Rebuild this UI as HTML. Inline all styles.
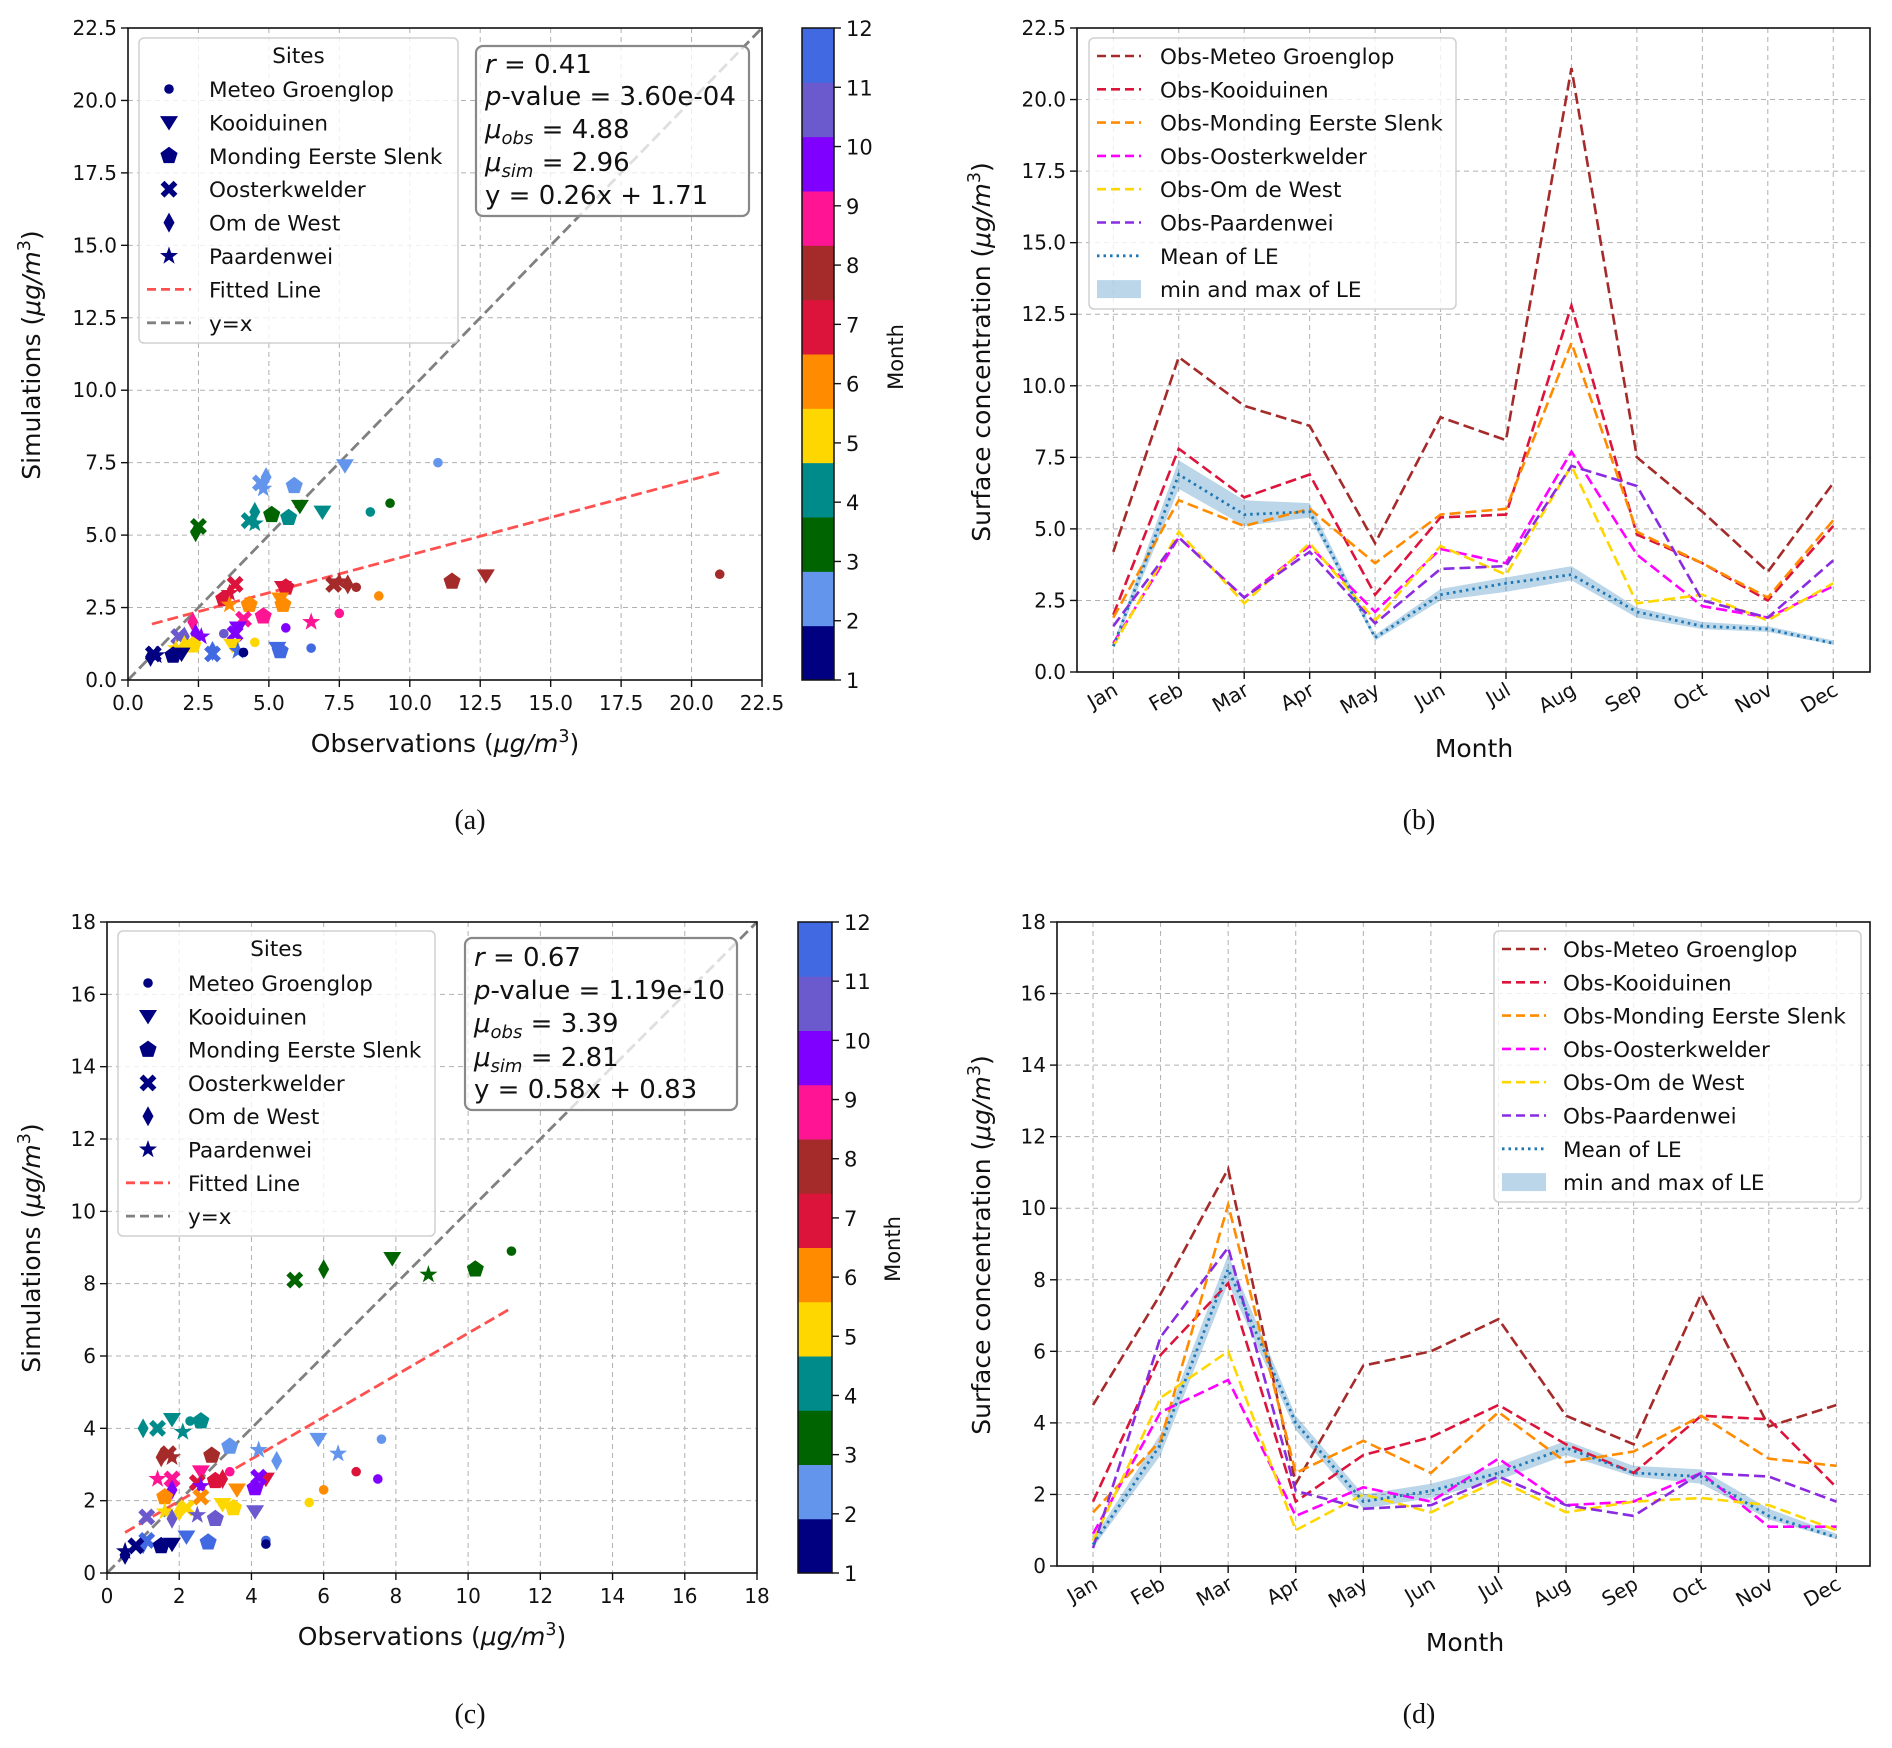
<!DOCTYPE html>
<html><head><meta charset="utf-8">
<style>
html,body{margin:0;padding:0;background:#fff;}
svg{display:block;font-family:"DejaVu Sans","Liberation Sans",sans-serif;}
</style></head>
<body>
<svg id="fig" xmlns="http://www.w3.org/2000/svg" width="1892" height="1748" viewBox="0 0 1892 1748"></svg>
<script>
// ===== Data =====
const months = ['Jan','Feb','Mar','Apr','May','Jun','Jul','Aug','Sep','Oct','Nov','Dec'];
const siteNames = ['Meteo Groenglop','Kooiduinen','Monding Eerste Slenk','Oosterkwelder','Om de West','Paardenwei'];
const monthColors = ['#000080','#6495ed','#006400','#008b8b','#ffd700','#ff8c00','#dc143c','#a52a2a','#ff1493','#8000ff','#6a5acd','#4169e1'];
const seriesColors = ['#a52a2a','#dc143c','#ff8c00','#ff00ff','#ffd700','#8a2be2'];

// Panel (a) scatter
const aObs   = [4.7,4.8,4.9,5.9,7.7,11.0, 2.4,2.5,5.1,6.1,9.3, 4.3,4.5,4.5,5.7,6.9,8.6, 7.3,7.5,7.8,8.1,11.5,12.7,21.0, 3.4,3.6,3.8,5.5,5.6, 3.6,4.3,5.4,5.5,8.9, 2.3,4.1,4.8,6.5,7.5, 2.4,2.6,3.8,3.9,5.6, 1.8,2.0,3.4, 1.7,2.0,2.3,3.7,4.5, 3.0,3.0,3.9,5.3,5.4,6.5, 0.8,0.9,1.0,1.6,1.9,4.1];
const aSim   = [6.8,6.6,7.0,6.7,7.4,7.5, 5.1,5.3,5.7,6.0,6.1, 5.5,5.4,5.8,5.6,5.8,5.8, 3.3,3.4,3.3,3.2,3.4,3.6,3.65, 2.8,3.0,3.3,3.2,3.2, 2.6,2.6,2.8,2.6,2.9, 2.0,2.1,2.2,2.0,2.3, 1.6,1.5,1.6,1.8,1.8, 1.5,1.5,1.6, 1.1,1.2,1.2,1.2,1.3, 1.0,0.9,1.0,1.1,1.0,1.1, 0.8,0.9,0.85,0.85,0.9,0.95];
const aSite  = [3,5,4,2,1,0, 4,3,2,1,0, 3,5,4,2,1,0, 3,5,4,0,2,1,0, 2,5,3,1,2, 5,2,1,2,0, 4,3,2,5,0, 4,5,3,1,0, 3,4,0, 5,4,2,1,0, 4,3,5,1,2,0, 4,3,5,2,1,0];
const aMonth = [2,2,2,2,2,2, 3,3,3,3,3, 4,4,4,4,4,4, 8,8,8,8,8,8,8, 7,7,7,7,7, 6,6,6,6,6, 9,9,9,9,9, 10,10,10,10,10, 11,11,11, 5,5,5,5,5, 12,12,12,12,12,12, 1,1,1,1,1,1];
const aStats = ['0.41','3.60e-04','4.88','2.96','y = 0.26x + 1.71'];
const aFit   = [0.26, 1.71, 0.85, 21.0];

// Panel (c) scatter
const cObs   = [5.2,6.0,7.9,8.9,10.2,11.2, 1.0,1.4,1.8,2.1,2.3,2.6, 1.5,1.7,1.8,2.9, 3.4,4.2,4.7,5.85,6.4,7.6, 1.4,1.8,2.6,3.4,7.5, 2.5,3.0,3.2,4.4,6.9, 1.8,2.6,4.1,4.2, 1.6,2.6,3.6,6.0, 1.6,2.0,2.2,3.2,3.5,5.6, 1.1,1.8,2.5,3.0,4.1, 1.0,1.1,2.2,2.8,4.4, 0.5,0.5,0.8,1.5,1.8,4.4];
const cSim   = [8.1,8.4,8.7,8.25,8.4,8.9, 4.0,4.0,4.25,3.9,4.2,4.2, 3.2,3.3,3.2,3.25, 3.5,3.4,3.1,3.7,3.3,3.7, 2.6,2.6,2.8,2.8,2.6, 2.5,2.55,2.6,2.6,2.8, 2.3,2.4,2.35,2.65, 2.1,2.1,2.3,2.3, 1.7,1.7,1.8,1.9,1.8,1.95, 1.55,1.5,1.6,1.5,1.7, 0.8,0.9,1.0,0.85,0.9, 0.6,0.5,0.75,0.75,0.8,0.8];
const cSite  = [3,4,1,5,2,0, 4,3,1,5,0,2, 4,3,5,2, 2,5,4,1,5,0, 5,3,1,0,0, 3,2,4,1,0, 4,5,2,3, 2,3,1,0, 5,4,3,1,2,0, 3,4,5,2,1, 4,3,1,2,0, 5,4,3,2,1,0];
const cMonth = [3,3,3,3,3,3, 4,4,4,4,4,4, 8,8,8,8, 2,2,2,2,2,2, 9,9,9,9,10, 7,7,7,7,7, 10,10,10,10, 6,6,6,6, 5,5,5,5,5,5, 11,11,11,11,11, 12,12,12,12,12, 1,1,1,1,1,1];
const cStats = ['0.67','1.19e-10','3.39','2.81','y = 0.58x + 0.83'];
const cFit   = [0.58, 0.83, 0.5, 11.2];

// Panel (b) monthly lines
const bGroen = [4.2,11.0,9.3,8.6,4.5,8.9,8.1,21.1,7.5,5.6,3.5,6.6];
const bKooi  = [2.0,7.8,6.1,6.9,2.7,5.4,5.5,12.8,4.8,3.8,2.5,5.1];
const bMond  = [1.9,6.0,5.1,5.7,3.8,5.5,5.7,11.5,4.9,3.8,2.6,5.3];
const bOost  = [1.0,4.7,2.6,4.4,2.1,4.3,3.8,7.7,4.1,2.3,1.9,3.0];
const bWest  = [0.9,4.9,2.4,4.5,1.8,4.4,3.4,7.2,2.4,2.7,1.8,3.1];
const bPaard = [1.6,4.7,2.6,4.2,1.7,3.6,3.7,7.2,6.5,2.5,1.9,3.9];
const bMean  = [0.9,6.9,5.5,5.6,1.2,2.7,3.1,3.4,2.1,1.6,1.5,1.0];
const bMin   = [0.8,6.4,5.1,5.4,1.1,2.5,2.8,3.2,1.9,1.5,1.4,0.95];
const bMax   = [1.0,7.4,6.0,5.9,1.3,2.9,3.3,3.7,2.25,1.75,1.6,1.1];

// Panel (d) monthly lines
const dGroen = [4.5,7.6,11.1,2.3,5.6,6.0,6.9,4.2,3.4,7.6,3.9,4.5];
const dKooi  = [1.8,5.9,7.9,1.8,3.1,3.6,4.5,3.4,2.6,4.2,4.1,2.2];
const dMond  = [1.5,3.5,10.1,2.6,3.5,2.6,4.3,2.9,3.2,4.2,3.0,2.8];
const dOost  = [0.9,4.3,5.2,1.4,2.2,1.8,3.0,1.7,1.8,2.6,1.1,1.1];
const dWest  = [0.7,4.7,6.0,1.0,2.0,1.5,2.4,1.5,1.8,1.9,1.7,1.0];
const dPaard = [0.5,6.4,8.9,2.1,1.6,1.7,2.5,1.7,1.4,2.6,2.5,1.8];
const dMean  = [0.6,3.4,8.3,4.0,1.8,2.1,2.6,3.3,2.6,2.5,1.4,0.8];
const dMin   = [0.5,3.1,7.9,3.8,1.6,1.9,2.4,3.1,2.5,2.3,1.3,0.75];
const dMax   = [0.75,3.7,8.7,4.2,2.0,2.3,2.8,3.5,2.8,2.7,1.6,0.9];

const aTicks = ['0.0','2.5','5.0','7.5','10.0','12.5','15.0','17.5','20.0','22.5'];
const cTicks = ['0','2','4','6','8','10','12','14','16','18'];

// ===== Helpers =====
const NS = 'http://www.w3.org/2000/svg';
const svg = document.getElementById('fig');
function mk(tag, attrs, name, parent) {
  const el = document.createElementNS(NS, tag);
  for (const k in attrs) el.setAttribute(k, attrs[k]);
  
  
  (parent || svg).appendChild(el);
  return el;
}
function lin(d0, d1, r0, r1) { return v => r0 + (v - d0) * (r1 - r0) / (d1 - d0); }
function txt(x, y, s, size, name, parent, extra) {
  const a = Object.assign({x: x, y: y, 'font-size': size, fill: '#111'}, extra || {});
  const t = mk('text', a, name, parent);
  t.textContent = s;
  return t;
}
function unitLabel(x, y, pre, size, name, parent, rot) {
  const t = mk('text', {x: x, y: y, 'font-size': size, fill: '#111', 'text-anchor': 'middle',
    transform: rot ? 'rotate(-90 ' + x + ' ' + y + ')' : ''}, name, parent);
  const s1 = document.createElementNS(NS, 'tspan'); s1.textContent = pre + ' (';
  const s2 = document.createElementNS(NS, 'tspan'); s2.setAttribute('font-style', 'italic'); s2.textContent = 'μg/m';
  const s3 = document.createElementNS(NS, 'tspan'); s3.setAttribute('font-size', size * 0.7); s3.setAttribute('dy', -size * 0.4); s3.textContent = '3';
  const s4 = document.createElementNS(NS, 'tspan'); s4.setAttribute('dy', size * 0.4); s4.textContent = ')';
  t.appendChild(s1); t.appendChild(s2); t.appendChild(s3); t.appendChild(s4);
  return t;
}
function marker(g, shape, cx, cy, color, name) {
  let el;
  const s = 9;
  if (shape === 0) {
    el = mk('circle', {cx: cx, cy: cy, r: 4.8, fill: color}, name, g);
  } else if (shape === 1) {
    el = mk('polygon', {points: (cx - s) + ',' + (cy - s * 0.7) + ' ' + (cx + s) + ',' + (cy - s * 0.7) + ' ' + cx + ',' + (cy + s * 0.9), fill: color}, name, g);
  } else if (shape === 2) {
    let p = [];
    for (let i = 0; i < 5; i++) { const a = -Math.PI / 2 + i * 2 * Math.PI / 5; p.push((cx + s * Math.cos(a)).toFixed(1) + ',' + (cy + s * Math.sin(a)).toFixed(1)); }
    el = mk('polygon', {points: p.join(' '), fill: color}, name, g);
  } else if (shape === 3) {
    const d = 'M' + (cx - 6.5) + ' ' + (cy - 6.5) + 'L' + (cx + 6.5) + ' ' + (cy + 6.5) + 'M' + (cx + 6.5) + ' ' + (cy - 6.5) + 'L' + (cx - 6.5) + ' ' + (cy + 6.5);
    el = mk('path', {d: d, stroke: color, 'stroke-width': 5.5, fill: 'none'}, name, g);
  } else if (shape === 4) {
    el = mk('polygon', {points: cx + ',' + (cy - 10) + ' ' + (cx + 5.5) + ',' + cy + ' ' + cx + ',' + (cy + 10) + ' ' + (cx - 5.5) + ',' + cy, fill: color}, name, g);
  } else {
    let p = [];
    for (let i = 0; i < 10; i++) { const r = i % 2 ? 3.8 : 9.5; const a = -Math.PI / 2 + i * Math.PI / 5; p.push((cx + r * Math.cos(a)).toFixed(1) + ',' + (cy + r * Math.sin(a)).toFixed(1)); }
    el = mk('polygon', {points: p.join(' '), fill: color}, name, g);
  }
  return el;
}
function frameAndGrid(g, L, R, T, B, xs, ys) {
  xs.forEach(x => mk('line', {x1: x, x2: x, y1: T, y2: B, stroke: '#b0b0b0', 'stroke-width': 1, 'stroke-dasharray': '5,4'}, 'x-grid-line', g));
  ys.forEach(y => mk('line', {x1: L, x2: R, y1: y, y2: y, stroke: '#b0b0b0', 'stroke-width': 1, 'stroke-dasharray': '5,4'}, 'y-grid-line', g));
}
function frame(g, L, R, T, B) {
  mk('rect', {x: L, y: T, width: R - L, height: B - T, fill: 'none', stroke: '#111', 'stroke-width': 1.6}, 'axes-frame', g);
}

// ===== Scatter panel =====
function scatterPanel(p) {
  const g = mk('g', {}, p.id + '-scatter-panel');
  const X = lin(0, p.max, p.L, p.R), Y = lin(0, p.max, p.B, p.T);
  const tv = p.ticks.map(Number);
  frameAndGrid(g, p.L, p.R, p.T, p.B, tv.map(X), tv.map(Y));
  mk('line', {x1: X(0), y1: Y(0), x2: X(p.max), y2: Y(p.max), stroke: '#808080', 'stroke-width': 2.8, 'stroke-dasharray': '11,5'}, 'identity-line', g);
  mk('line', {x1: X(p.fit[2]), y1: Y(p.fit[0] * p.fit[2] + p.fit[1]), x2: X(p.fit[3]), y2: Y(p.fit[0] * p.fit[3] + p.fit[1]), stroke: '#ff5050', 'stroke-width': 2.8, 'stroke-dasharray': '11,5'}, 'fitted-line', g);
  for (let i = 0; i < p.obs.length; i++) {
    marker(g, p.site[i], X(p.obs[i]), Y(p.sim[i]), monthColors[p.month[i] - 1], 'data-point');
  }
  frame(g, p.L, p.R, p.T, p.B);
  p.ticks.forEach((t, i) => {
    const x = X(tv[i]), y = Y(tv[i]);
    mk('line', {x1: x, x2: x, y1: p.B, y2: p.B + 7, stroke: '#111', 'stroke-width': 1.4}, 'x-tick', g);
    txt(x, p.B + 30, t, 20, 'x-tick-label', g, {'text-anchor': 'middle'});
    mk('line', {x1: p.L - 7, x2: p.L, y1: y, y2: y, stroke: '#111', 'stroke-width': 1.4}, 'y-tick', g);
    txt(p.L - 11, y + 7, t, 20, 'y-tick-label', g, {'text-anchor': 'end'});
  });
  unitLabel((p.L + p.R) / 2, p.xlabY, 'Observations', 25, 'x-axis-title', g, false);
  unitLabel(40, p.ylabY, 'Simulations', 25, 'y-axis-title', g, true);
  const lg = mk('g', {}, 'sites-legend', g);
  mk('rect', {x: p.lg[0], y: p.lg[1], width: p.lg[2], height: p.lg[3], rx: 5, fill: 'rgba(255,255,255,0.8)', stroke: '#d0d0d0', 'stroke-width': 1.5}, 'legend-box', lg);
  txt(p.lg[0] + p.lg[2] / 2, p.lgTitleY, 'Sites', 21.5, 'legend-title', lg, {'text-anchor': 'middle'});
  siteNames.forEach((s, i) => {
    const y = p.lgY0 + i * p.lgDy;
    marker(lg, i, p.lgMx, y, '#000080', 'legend-marker');
    txt(p.lgTx, y + 8, s, 21.5, 'legend-entry', lg);
  });
  const yF = p.lgY0 + 6 * p.lgDy, yI = p.lgY0 + 7 * p.lgDy;
  mk('line', {x1: p.lgMx - 22, x2: p.lgMx + 22, y1: yF, y2: yF, stroke: '#ff5050', 'stroke-width': 2.8, 'stroke-dasharray': '9,5'}, 'legend-fitted-handle', lg);
  txt(p.lgTx, yF + 8, 'Fitted Line', 21.5, 'legend-entry', lg);
  mk('line', {x1: p.lgMx - 22, x2: p.lgMx + 22, y1: yI, y2: yI, stroke: '#808080', 'stroke-width': 2.8, 'stroke-dasharray': '9,5'}, 'legend-identity-handle', lg);
  txt(p.lgTx, yI + 8, 'y=x', 21.5, 'legend-entry', lg);
  const sg = mk('g', {}, 'stats-box', g);
  mk('rect', {x: p.sb[0], y: p.sb[1], width: p.sb[2], height: p.sb[3], rx: 7, fill: 'rgba(255,255,255,0.75)', stroke: '#888', 'stroke-width': 2.2}, 'stats-box-frame', sg);
  const tx = p.sb[0] + 9, fs = 26;
  const ly = p.sbY;
  let t = mk('text', {x: tx, y: ly[0], 'font-size': fs, fill: '#111'}, 'stat-r', sg);
  t.innerHTML = '<tspan font-style="italic">r</tspan> = ' + p.stats[0];
  t = mk('text', {x: tx, y: ly[1], 'font-size': fs, fill: '#111'}, 'stat-p-value', sg);
  t.innerHTML = '<tspan font-style="italic">p</tspan>-value = ' + p.stats[1];
  t = mk('text', {x: tx, y: ly[2], 'font-size': fs, fill: '#111'}, 'stat-mean-obs', sg);
  t.innerHTML = '<tspan font-style="italic">μ</tspan><tspan font-style="italic" font-size="18" dy="6">obs</tspan><tspan dy="-6"> = ' + p.stats[2] + '</tspan>';
  t = mk('text', {x: tx, y: ly[3], 'font-size': fs, fill: '#111'}, 'stat-mean-sim', sg);
  t.innerHTML = '<tspan font-style="italic">μ</tspan><tspan font-style="italic" font-size="18" dy="6">sim</tspan><tspan dy="-6"> = ' + p.stats[3] + '</tspan>';
  txt(tx, ly[4], p.stats[4], fs, 'stat-fit-equation', sg);
  const cg = mk('g', {}, 'month-colorbar', g);
  const h = (p.B - p.T) / 12;
  monthColors.forEach((c, i) => {
    mk('rect', {x: p.cb[0], y: p.B - (i + 1) * h, width: p.cb[1] - p.cb[0], height: h + 0.5, fill: c}, 'colorbar-band', cg);
  });
  mk('rect', {x: p.cb[0], y: p.T, width: p.cb[1] - p.cb[0], height: p.B - p.T, fill: 'none', stroke: '#111', 'stroke-width': 1.5}, 'colorbar-frame', cg);
  for (let k = 1; k <= 12; k++) {
    const y = p.B - (k - 1) * (p.B - p.T) / 11;
    mk('line', {x1: p.cb[1], x2: p.cb[1] + 7, y1: y, y2: y, stroke: '#111', 'stroke-width': 1.4}, 'colorbar-tick', cg);
    txt(p.cb[1] + 12, y + 8, String(k), 21, 'colorbar-tick-label', cg);
  }
  txt(p.cbLabX, p.cbLabY, 'Month', 21, 'colorbar-title', cg, {'text-anchor': 'middle', transform: 'rotate(-90 ' + p.cbLabX + ' ' + p.cbLabY + ')'});
  txt(p.capX, p.capY, p.caption, 28, 'panel-caption', g, {'text-anchor': 'middle', 'font-family': '"Liberation Serif", serif'});
}

// ===== Line panel =====
function linePanel(p) {
  const g = mk('g', {}, p.id + '-line-panel');
  const X = i => p.x0 + i * p.dx;
  const Y = lin(0, p.max, p.B, p.T);
  const tv = p.ticks.map(Number);
  frameAndGrid(g, p.L, p.R, p.T, p.B, months.map((m, i) => X(i)), tv.map(Y));
  let pts = p.mn.map((v, i) => X(i) + ',' + Y(v));
  for (let i = p.mx.length - 1; i >= 0; i--) pts.push(X(i) + ',' + Y(p.mx[i]));
  mk('polygon', {points: pts.join(' '), fill: 'rgba(31,119,180,0.3)'}, 'le-min-max-band', g);
  p.series.forEach((s, k) => {
    mk('polyline', {points: s.map((v, i) => X(i) + ',' + Y(v)).join(' '), fill: 'none', stroke: seriesColors[k], 'stroke-width': 2.6, 'stroke-dasharray': '11,5'}, 'obs-line-' + siteNames[k].toLowerCase().replace(/ /g, '-'), g);
  });
  mk('polyline', {points: p.mean.map((v, i) => X(i) + ',' + Y(v)).join(' '), fill: 'none', stroke: '#1f77b4', 'stroke-width': 2.8, 'stroke-dasharray': '2.5,4'}, 'le-mean-line', g);
  frame(g, p.L, p.R, p.T, p.B);
  months.forEach((m, i) => {
    const x = X(i);
    mk('line', {x1: x, x2: x, y1: p.B, y2: p.B + 7, stroke: '#111', 'stroke-width': 1.4}, 'x-tick', g);
    txt(x + 6, p.B + 22, m, 20, 'x-tick-label', g, {'text-anchor': 'end', transform: 'rotate(-30 ' + (x + 6) + ' ' + (p.B + 22) + ')'});
  });
  p.ticks.forEach((t, i) => {
    const y = Y(tv[i]);
    mk('line', {x1: p.L - 7, x2: p.L, y1: y, y2: y, stroke: '#111', 'stroke-width': 1.4}, 'y-tick', g);
    txt(p.L - 11, y + 7, t, 20, 'y-tick-label', g, {'text-anchor': 'end'});
  });
  txt(p.monX, p.monY, 'Month', 25, 'x-axis-title', g, {'text-anchor': 'middle'});
  unitLabel(990, p.ylabY, 'Surface concentration', 25, 'y-axis-title', g, true);
  const lg = mk('g', {}, 'series-legend', g);
  mk('rect', {x: p.lg[0], y: p.lg[1], width: p.lg[2], height: p.lg[3], rx: 5, fill: 'rgba(255,255,255,0.8)', stroke: '#d0d0d0', 'stroke-width': 1.5}, 'legend-box', lg);
  siteNames.forEach((s, k) => {
    const y = p.lgY0 + k * p.lgDy;
    mk('line', {x1: p.lgH, x2: p.lgH + 44, y1: y, y2: y, stroke: seriesColors[k], 'stroke-width': 2.6, 'stroke-dasharray': '9,5'}, 'legend-handle', lg);
    txt(p.lgT, y + 8, 'Obs-' + s, 21.5, 'legend-entry', lg);
  });
  let y = p.lgY0 + 6 * p.lgDy;
  mk('line', {x1: p.lgH, x2: p.lgH + 44, y1: y, y2: y, stroke: '#1f77b4', 'stroke-width': 2.8, 'stroke-dasharray': '2.5,4'}, 'legend-handle', lg);
  txt(p.lgT, y + 8, 'Mean of LE', 21.5, 'legend-entry', lg);
  y = p.lgY0 + 7 * p.lgDy;
  mk('rect', {x: p.lgH, y: y - 9, width: 44, height: 18, fill: 'rgba(31,119,180,0.3)'}, 'legend-handle', lg);
  txt(p.lgT, y + 8, 'min and max of LE', 21.5, 'legend-entry', lg);
  txt(p.capX, p.capY, p.caption, 28, 'panel-caption', g, {'text-anchor': 'middle', 'font-family': '"Liberation Serif", serif'});
}

scatterPanel({id: 'a', L: 128, R: 762, T: 28, B: 680, max: 22.5, ticks: aTicks,
  obs: aObs, sim: aSim, site: aSite, month: aMonth, stats: aStats, fit: aFit,
  xlabY: 752, ylabY: 355,
  lg: [139, 38, 319, 305], lgTitleY: 63, lgY0: 89, lgDy: 33.4, lgMx: 169, lgTx: 209,
  sb: [476, 46, 273, 170], sbY: [73, 105, 138, 171, 204],
  cb: [802, 834], cbLabX: 903, cbLabY: 357, capX: 470, capY: 829, caption: '(a)'});

scatterPanel({id: 'c', L: 107, R: 757, T: 922, B: 1573, max: 18, ticks: cTicks,
  obs: cObs, sim: cSim, site: cSite, month: cMonth, stats: cStats, fit: cFit,
  xlabY: 1645, ylabY: 1248,
  lg: [118, 931, 317, 305], lgTitleY: 956, lgY0: 983, lgDy: 33.3, lgMx: 148, lgTx: 188,
  sb: [465, 938, 272, 172], sbY: [966, 999, 1032, 1066, 1098],
  cb: [798, 832], cbLabX: 900, cbLabY: 1249, capX: 470, capY: 1723, caption: '(c)'});

linePanel({id: 'b', L: 1077, R: 1870, T: 28, B: 672, max: 22.5, ticks: aTicks,
  x0: 1113.3, dx: 65.45, series: [bGroen, bKooi, bMond, bOost, bWest, bPaard],
  mean: bMean, mn: bMin, mx: bMax, monX: 1474, monY: 757, ylabY: 352,
  lg: [1089, 38, 367, 271], lgY0: 56, lgDy: 33.3, lgH: 1097, lgT: 1160,
  capX: 1419, capY: 829, caption: '(b)'});

linePanel({id: 'd', L: 1057, R: 1870, T: 922, B: 1566, max: 18, ticks: cTicks,
  x0: 1093, dx: 67.58, series: [dGroen, dKooi, dMond, dOost, dWest, dPaard],
  mean: dMean, mn: dMin, mx: dMax, monX: 1465, monY: 1651, ylabY: 1245,
  lg: [1494, 931, 367, 271], lgY0: 949, lgDy: 33.3, lgH: 1502, lgT: 1563,
  capX: 1419, capY: 1723, caption: '(d)'});
</script>
</body></html>
